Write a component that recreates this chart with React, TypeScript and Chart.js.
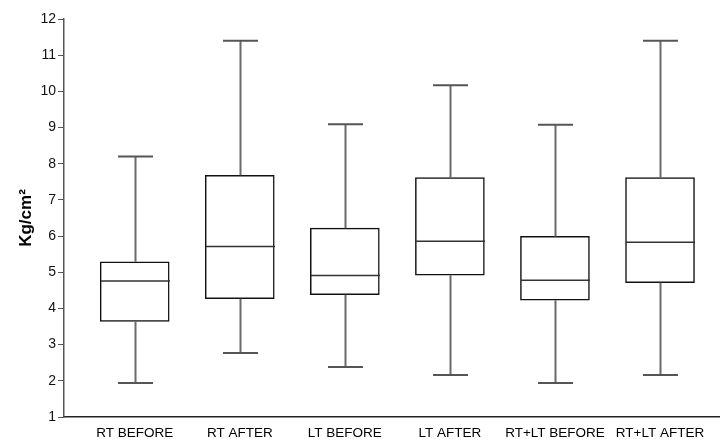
import React, { useEffect, useRef } from "react";
import { Chart, registerables } from "chart.js";

Chart.register(...registerables);

const categories = ["RT BEFORE", "RT AFTER", "LT BEFORE", "LT AFTER", "RT+LT BEFORE", "RT+LT AFTER"];
const minVals = [1.94, 2.77, 2.38, 2.16, 1.94, 2.16];
const q1Vals = [3.64, 4.27, 4.38, 4.92, 4.23, 4.71];
const medianVals = [4.76, 5.71, 4.91, 5.86, 4.78, 5.83];
const q3Vals = [5.29, 7.68, 6.22, 7.62, 5.99, 7.62];
const maxVals = [8.2, 11.4, 9.09, 10.17, 9.08, 11.4];
const yTicks = [1, 2, 3, 4, 5, 6, 7, 8, 9, 10, 11, 12];

const whiskerPlugin = {
  id: "whiskers",
  afterDatasetsDraw(chart: any) {
    const { ctx, scales } = chart;
    const xs = scales.x;
    const ys = scales.y;
    const capHalf = 17.5;
    const boxHalf = 34.5;
    ctx.save();
    categories.forEach((_, i) => {
      const cx = Math.round(xs.getPixelForValue(i + 1)) + 0.5;
      const yMin = ys.getPixelForValue(minVals[i]);
      const yQ1 = ys.getPixelForValue(q1Vals[i]);
      const yQ3 = ys.getPixelForValue(q3Vals[i]);
      const yMax = ys.getPixelForValue(maxVals[i]);
      const yMed = ys.getPixelForValue(medianVals[i]);
      ctx.strokeStyle = "#6a6a6a";
      ctx.lineWidth = 2;
      ctx.beginPath();
      ctx.moveTo(cx, yQ1);
      ctx.lineTo(cx, yMin);
      ctx.moveTo(cx, yQ3);
      ctx.lineTo(cx, yMax);
      ctx.stroke();
      ctx.strokeStyle = "#555";
      ctx.beginPath();
      ctx.moveTo(cx - capHalf, yMin);
      ctx.lineTo(cx + capHalf, yMin);
      ctx.moveTo(cx - capHalf, yMax);
      ctx.lineTo(cx + capHalf, yMax);
      ctx.stroke();
      ctx.strokeStyle = "#333";
      ctx.lineWidth = 1.5;
      ctx.beginPath();
      ctx.moveTo(cx - boxHalf, yMed);
      ctx.lineTo(cx + boxHalf, yMed);
      ctx.stroke();
    });
    ctx.restore();
  },
};

export default function App() {
  const ref = useRef<HTMLCanvasElement | null>(null);
  useEffect(() => {
    document.body.style.margin = "0";
    const canvas = ref.current;
    if (!canvas) return;
    const chart = new Chart(canvas, {
      type: "bar",
      data: {
        datasets: [
          {
            data: categories.map((_, i) => ({ x: i + 1, y: [q1Vals[i], q3Vals[i]] })) as any,
            backgroundColor: "#ffffff",
            borderColor: "#111111",
            borderWidth: 1.5,
            borderSkipped: false,
            barThickness: 69,
          },
        ],
      },
      options: {
        responsive: false,
        animation: false,
        layout: { padding: { top: 19, right: 0, left: 0, bottom: 0 } },
        plugins: {
          legend: { display: false },
          tooltip: { enabled: false },
        },
        scales: {
          x: {
            type: "linear",
            offset: false,
            min: 0.327,
            max: 6.571,
            afterBuildTicks: (scale: any) => {
              scale.ticks = categories.map((_, i) => ({ value: i + 1 }));
            },
            afterFit: (scale: any) => {
              scale.height = 22;
            },
            ticks: {
              autoSkip: false,
              maxRotation: 0,
              padding: 8,
              color: "#000",
              font: { family: "Liberation Sans", size: 13.5 },
              callback: (v: any) => categories[Math.round(Number(v)) - 1] ?? "",
            },
            grid: { display: false, drawTicks: false },
            border: { display: true, color: "#222", width: 1.5 },
          },
          y: {
            type: "linear",
            min: 1,
            max: 12,
            afterBuildTicks: (scale: any) => {
              scale.ticks = yTicks.map((v) => ({ value: v }));
            },
            afterFit: (scale: any) => {
              scale.width = 64;
            },
            ticks: {
              padding: 2,
              color: "#111",
              font: { family: "Liberation Sans", size: 14 },
            },
            grid: { drawOnChartArea: false, drawTicks: true, tickLength: 6, color: "#555" },
            border: { display: true, color: "#555", width: 1.5 },
            title: {
              display: true,
              text: "Kg/cm²",
              color: "#000",
              font: { family: "Liberation Sans", size: 17, weight: "bold" },
              padding: { top: 16, bottom: 6 },
            },
          },
        },
      },
      plugins: [whiskerPlugin],
    });
    return () => chart.destroy();
  }, []);
  return (
    <div style={{ position: "fixed", left: 0, top: 0, width: 720, height: 439, background: "#fff" }}>
      <canvas ref={ref} width={720} height={439} />
    </div>
  );
}
